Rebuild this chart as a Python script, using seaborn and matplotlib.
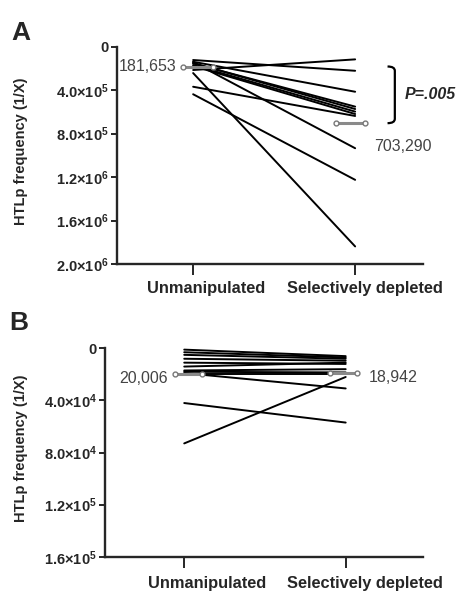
import numpy as np
import pandas as pd
import seaborn as sns
import matplotlib.pyplot as plt
from matplotlib import transforms
from matplotlib.path import Path
from matplotlib.patches import PathPatch

# conditions on the x axis
conditions = ["Unmanipulated", "Selectively depleted"]

# panel A: HTLp frequency (1/X), one pair of values per donor
a_unmanip = [122e3, 214e3, 138e3, 153e3, 150e3, 168e3, 177e3, 368e3, 141e3, 437e3, 242e3]
a_depleted = [221e3, 116e3, 414e3, 551e3, 573e3, 597e3, 619e3, 637e3, 934e3, 1225e3, 1838e3]
a_means = [181653, 703290]
a_mean_labels = ["181,653", "703,290"]
a_ticks = [0, 4e5, 8e5, 1.2e6, 1.6e6, 2e6]
a_ticklabels = ["0", "4.0×10$^{5}$", "8.0×10$^{5}$", "1.2×10$^{6}$", "1.6×10$^{6}$", "2.0×10$^{6}$"]
a_pvalue = "P=.005"

# panel B
b_unmanip = [1e3, 3e3, 5e3, 8e3, 11e3, 14e3, 17e3, 18e3, 19e3, 20e3, 42e3, 73e3]
b_depleted = [6e3, 7e3, 8e3, 9.5e3, 12e3, 11e3, 16e3, 18.5e3, 30.8e3, 20e3, 57e3, 22e3]
b_means = [20006, 18942]
b_mean_labels = ["20,006", "18,942"]
b_ticks = [0, 4e4, 8e4, 1.2e5, 1.6e5]
b_ticklabels = ["0", "4.0×10$^{4}$", "8.0×10$^{4}$", "1.2×10$^{5}$", "1.6×10$^{5}$"]

ylabel = "HTLp frequency (1/X)"

sns.set_style("ticks")
plt.rcParams["font.family"] = ["Liberation Sans", "DejaVu Sans"]
plt.rcParams["mathtext.fontset"] = "custom"
plt.rcParams["mathtext.rm"] = "Liberation Sans:bold"
plt.rcParams["mathtext.it"] = "Liberation Sans:bold:italic"
plt.rcParams["mathtext.bf"] = "Liberation Sans:bold"


def long_frame(before, after):
    rows = []
    for i, (u, d) in enumerate(zip(before, after)):
        rows.append({"donor": i, "pos": 0, "freq": u})
        rows.append({"donor": i, "pos": 1, "freq": d})
    return pd.DataFrame(rows)


def panel(ax, before, after, ticks, ticklabels, xlim, label_shift, label_x, xpad):
    df = long_frame(before, after)
    sns.lineplot(data=df, x="pos", y="freq", units="donor", estimator=None,
                 color="black", lw=1.4, ax=ax, legend=False)
    ax.set_ylim(ticks[-1], 0)
    ax.set_yticks(ticks)
    ax.set_yticklabels(ticklabels, fontweight="bold", fontsize=10.5)
    ax.set_xlim(*xlim)
    ax.set_xticks([0, 1])
    ax.set_xticklabels(conditions, fontweight="bold", fontsize=11.8)
    ax.set_xlabel("")
    ax.set_ylabel(ylabel, fontweight="bold", fontsize=10.5)
    ax.yaxis.set_label_coords(label_x, 0.52)
    sns.despine(ax=ax)
    for s in ("left", "bottom"):
        ax.spines[s].set_linewidth(1.7)
    ax.tick_params(axis="y", length=4, width=1.4, pad=2)
    ax.tick_params(axis="x", length=8, width=1.4, pad=xpad)
    for lab, dx in zip(ax.get_xticklabels(), label_shift):
        lab.set_transform(lab.get_transform() +
                          transforms.ScaledTranslation(dx / 100, 0, ax.figure.dpi_scale_trans))


def mean_bar(ax, x0, x1, y):
    ax.plot([x0, x1], [y, y], color="#8a8a8a", lw=2.2, solid_capstyle="butt",
            clip_on=False, zorder=4)
    ax.plot([x0, x1], [y, y], "o", ms=3.5, mfc="white", mec="#777777", mew=1.0,
            clip_on=False, zorder=5)


fig = plt.figure(figsize=(4.57, 5.92), dpi=100)

# panel A
axA = fig.add_axes([0.256, 0.554, 0.670, 0.367])
panel(axA, a_unmanip, a_depleted, a_ticks, a_ticklabels, (-0.47, 1.42), (13, 10), -0.29, 4)
mean_bar(axA, -0.06, 0.12, a_means[0])
mean_bar(axA, 0.88, 1.06, a_means[1])
axA.annotate(a_mean_labels[0], (-0.1, a_means[0]), ha="right", va="center",
             fontsize=11.5, color="#444444", annotation_clip=False)
axA.annotate(a_mean_labels[1], (1.12, a_means[1]), xytext=(0, -17), textcoords="offset points",
             ha="left", va="center", fontsize=11.5, color="#444444", annotation_clip=False)
# bracket joining the two means
bx, hook = 1.245, 0.045
y0, y1 = a_means[0], a_means[1]
r = 0.04e6
verts = [(bx - hook, y0), (bx, y0), (bx, y0 + r), (bx, y1 - r), (bx, y1), (bx - hook, y1)]
codes = [Path.MOVETO, Path.CURVE3, Path.CURVE3, Path.LINETO, Path.CURVE3, Path.CURVE3]
axA.add_patch(PathPatch(Path(verts, codes), fill=False, lw=1.6, color="black", clip_on=False))
axA.text(bx + 0.06, (y0 + y1) / 2, a_pvalue, ha="left", va="center", fontsize=11.5,
         fontweight="bold", fontstyle="italic", clip_on=False)
fig.text(0.024, 0.945, "A", fontsize=19, fontweight="bold", ha="left", va="center")

# panel B
axB = fig.add_axes([0.230, 0.0596, 0.696, 0.352])
panel(axB, b_unmanip, b_depleted, b_ticks, b_ticklabels, (-0.49, 1.48), (23, 19), -0.242, 6)
mean_bar(axB, -0.06, 0.11, b_means[0])
mean_bar(axB, 0.9, 1.07, b_means[1])
axB.annotate(b_mean_labels[0], (-0.1, b_means[0]), xytext=(0, -3), textcoords="offset points",
             ha="right", va="center", fontsize=11.5, color="#444444", annotation_clip=False)
axB.annotate(b_mean_labels[1], (1.14, b_means[1]), xytext=(0, -3), textcoords="offset points",
             ha="left", va="center", fontsize=11.5, color="#444444", annotation_clip=False)
fig.text(0.020, 0.454, "B", fontsize=19, fontweight="bold", ha="left", va="center")

fig.savefig("out.png", dpi=100)
